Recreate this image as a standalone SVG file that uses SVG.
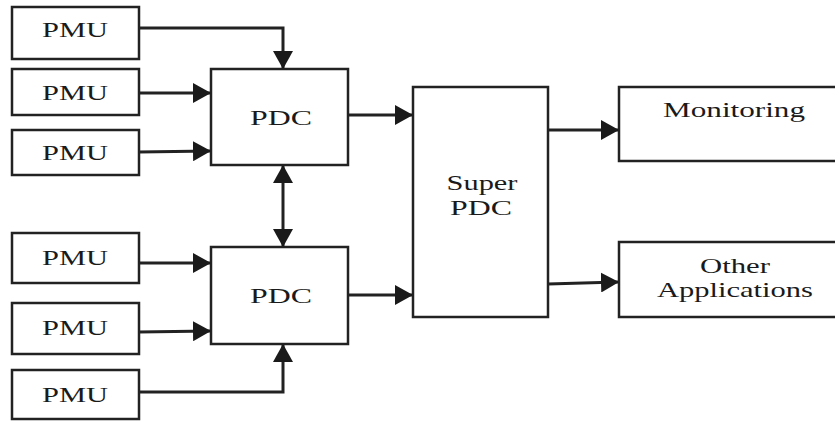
<svg xmlns="http://www.w3.org/2000/svg" width="835" height="421" viewBox="0 0 835 421">
<defs>
<marker id="ah" markerUnits="userSpaceOnUse" markerWidth="18" markerHeight="20" refX="17" refY="10" orient="auto-start-reverse" viewBox="0 0 18 20">
<path d="M0,0 L18,10 L0,20 Z" fill="#1a1a1a"/>
</marker>
<style>
.box{fill:#fff;stroke:#222;stroke-width:2.5}
.t{font-family:"Liberation Serif","Times New Roman",serif;font-size:22px;fill:#1a1a1a;text-anchor:middle}
.c{fill:none;stroke:#222;stroke-width:3}
</style>
</defs>
<rect width="835" height="421" fill="#fff"/>
<g id="pmu1"><rect class="box" x="12" y="7" width="127" height="52"/><text class="t" x="75" y="37" textLength="66" lengthAdjust="spacingAndGlyphs">PMU</text></g>
<g id="pmu2"><rect class="box" x="12" y="69" width="127" height="46"/><text class="t" x="75" y="100" textLength="66" lengthAdjust="spacingAndGlyphs">PMU</text></g>
<g id="pmu3"><rect class="box" x="12" y="130" width="127" height="45"/><text class="t" x="75" y="160" textLength="66" lengthAdjust="spacingAndGlyphs">PMU</text></g>
<g id="pmu4"><rect class="box" x="12" y="233" width="127" height="50"/><text class="t" x="75" y="265" textLength="66" lengthAdjust="spacingAndGlyphs">PMU</text></g>
<g id="pmu5"><rect class="box" x="12" y="303" width="127" height="51"/><text class="t" x="75" y="335" textLength="66" lengthAdjust="spacingAndGlyphs">PMU</text></g>
<g id="pmu6"><rect class="box" x="12" y="370" width="127" height="49"/><text class="t" x="75" y="402" textLength="66" lengthAdjust="spacingAndGlyphs">PMU</text></g>
<g id="pdc1"><rect class="box" x="211" y="69" width="137" height="96"/><text class="t" x="281" y="125" textLength="62" lengthAdjust="spacingAndGlyphs">PDC</text></g>
<g id="pdc2"><rect class="box" x="211" y="247" width="137" height="97"/><text class="t" x="281" y="303" textLength="62" lengthAdjust="spacingAndGlyphs">PDC</text></g>
<g id="superpdc"><rect class="box" x="413" y="87" width="135" height="230"/><text class="t" x="482" y="190" textLength="71" lengthAdjust="spacingAndGlyphs">Super</text><text class="t" x="481" y="215" textLength="62" lengthAdjust="spacingAndGlyphs">PDC</text></g>
<g id="monitoring"><rect class="box" x="619" y="87" width="218" height="74"/><text class="t" x="734" y="117" textLength="142" lengthAdjust="spacingAndGlyphs">Monitoring</text></g>
<g id="other"><rect class="box" x="619" y="242" width="218" height="75"/><text class="t" x="735" y="273" textLength="70" lengthAdjust="spacingAndGlyphs">Other</text><text class="t" x="735" y="297" textLength="156" lengthAdjust="spacingAndGlyphs">Applications</text></g>
<g id="connectors">
<path class="c" d="M139,28 H283 V68" marker-end="url(#ah)"/>
<path class="c" d="M139,93 H210" marker-end="url(#ah)"/>
<path class="c" d="M139,152 L210,151" marker-end="url(#ah)"/>
<path class="c" d="M283,166 V246" marker-start="url(#ah)" marker-end="url(#ah)"/>
<path class="c" d="M139,263 H210" marker-end="url(#ah)"/>
<path class="c" d="M139,332 L210,331" marker-end="url(#ah)"/>
<path class="c" d="M139,392 H283 V345" marker-end="url(#ah)"/>
<path class="c" d="M348,115 H412" marker-end="url(#ah)"/>
<path class="c" d="M348,295 H412" marker-end="url(#ah)"/>
<path class="c" d="M548,130 H618" marker-end="url(#ah)"/>
<path class="c" d="M548,284 L618,282" marker-end="url(#ah)"/>
</g>
</svg>
